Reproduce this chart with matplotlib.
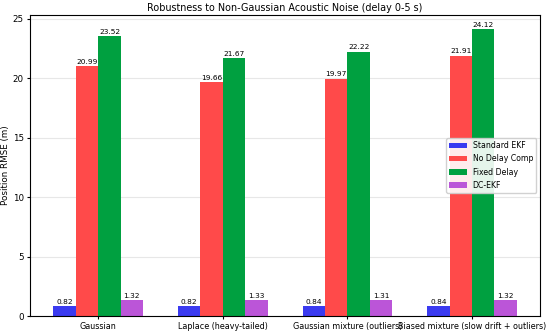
import numpy as np
import matplotlib
matplotlib.use('Agg')
import matplotlib.pyplot as plt

noise_types = ['Gaussian', 'Laplace (heavy-tailed)', 'Gaussian mixture (outliers)',
               'Biased mixture (slow drift + outliers)']
methods = ['Standard EKF', 'No Delay Comp', 'Fixed Delay', 'DC-EKF']
standard_ekf = [0.82, 0.82, 0.84, 0.84]
no_delay_comp = [20.99, 19.66, 19.97, 21.91]
fixed_delay = [23.52, 21.67, 22.22, 24.12]
dc_ekf = [1.32, 1.33, 1.31, 1.32]
colors = ['#3a3af0', '#ff4a4a', '#00a040', '#bb55d8']

fig = plt.figure(figsize=(5.5, 3.32), dpi=100)
ax = fig.add_axes([0.055, 0.048, 0.927, 0.907])

x = np.arange(len(noise_types))
w = 0.18
series = [standard_ekf, no_delay_comp, fixed_delay, dc_ekf]
for i, (vals, name, col) in enumerate(zip(series, methods, colors)):
    bars = ax.bar(x + (i - 1.5) * w, vals, w, label=name, color=col)
    for b, v in zip(bars, vals):
        ax.text(b.get_x() + b.get_width() / 2, v + 0.12, f'{v:.2f}',
                ha='center', va='bottom', fontsize=5.3)

ax.set_xticks(x)
ax.set_xticklabels(noise_types, fontsize=5.8)
ax.tick_params(axis='y', labelsize=6.3, length=2.5, pad=2)
ax.tick_params(axis='x', length=2.5, pad=2)
ax.set_ylabel('Position RMSE (m)', fontsize=6.3, labelpad=2)
ax.set_title('Robustness to Non-Gaussian Acoustic Noise (delay 0-5 s)', fontsize=6.9, pad=3)
ax.grid(axis='y', alpha=0.3)
ax.set_axisbelow(True)
ax.legend(loc='center right', fontsize=5.6, handlelength=2.2, labelspacing=0.55,
          framealpha=0.9)

fig.savefig('out.png', dpi=100)
